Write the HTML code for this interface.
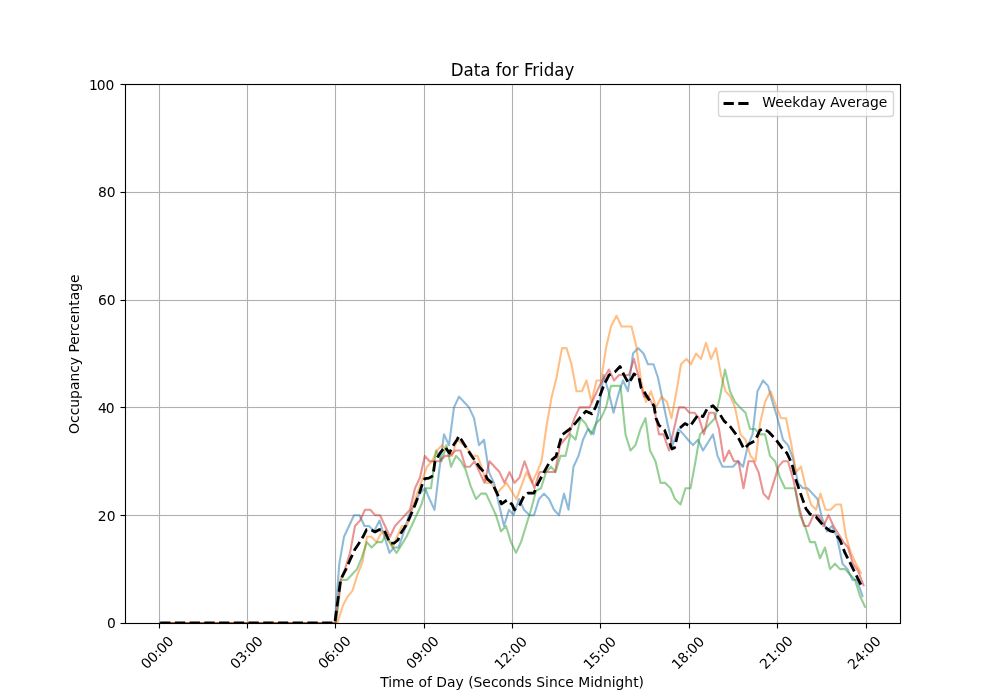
<!DOCTYPE html>
<html lang="en"><head><meta charset="utf-8"><title>Data for Friday</title>
<style>
html,body{margin:0;padding:0;background:#fff;overflow:hidden}
svg{display:block}
text{font-family:'DejaVu Sans','Liberation Sans',sans-serif;fill:#000}
.t10{font-size:13.889px}
.t12{font-size:16.667px}
.grid{stroke:#b0b0b0;stroke-width:1.111;fill:none}
.tick{stroke:#000;stroke-width:1.111;fill:none}
.ser{fill:none;stroke-width:2.083;stroke-opacity:0.5;stroke-linejoin:round;stroke-linecap:square}
</style></head>
<body>
<svg width="1000" height="700" viewBox="0 0 1000 700">
<rect x="0" y="0" width="1000" height="700" fill="#ffffff"/>
<defs><clipPath id="ax"><rect x="125" y="84" width="775" height="539"/></clipPath></defs>
<g class="grid" clip-path="url(#ax)">
<path d="M159.5 84V623"/>
<path d="M247.5 84V623"/>
<path d="M335.5 84V623"/>
<path d="M424.5 84V623"/>
<path d="M512.5 84V623"/>
<path d="M600.5 84V623"/>
<path d="M689.5 84V623"/>
<path d="M777.5 84V623"/>
<path d="M866.5 84V623"/>
<rect x="125" y="622.944" width="775" height="1.111" fill="#b0b0b0" stroke="none"/>
<rect x="125" y="514.944" width="775" height="1.111" fill="#b0b0b0" stroke="none"/>
<rect x="125" y="406.945" width="775" height="1.111" fill="#b0b0b0" stroke="none"/>
<rect x="125" y="299.945" width="775" height="1.111" fill="#b0b0b0" stroke="none"/>
<rect x="125" y="191.945" width="775" height="1.111" fill="#b0b0b0" stroke="none"/>
<rect x="125" y="83.945" width="775" height="1.111" fill="#b0b0b0" stroke="none"/>
</g>
<g class="tick">
<line x1="159.5" y1="623.5" x2="159.5" y2="628.5"/>
<line x1="247.5" y1="623.5" x2="247.5" y2="628.5"/>
<line x1="335.5" y1="623.5" x2="335.5" y2="628.5"/>
<line x1="424.5" y1="623.5" x2="424.5" y2="628.5"/>
<line x1="512.5" y1="623.5" x2="512.5" y2="628.5"/>
<line x1="600.5" y1="623.5" x2="600.5" y2="628.5"/>
<line x1="689.5" y1="623.5" x2="689.5" y2="628.5"/>
<line x1="777.5" y1="623.5" x2="777.5" y2="628.5"/>
<line x1="866.5" y1="623.5" x2="866.5" y2="628.5"/>
<line x1="120.5" y1="623.5" x2="125.5" y2="623.5"/>
<line x1="120.5" y1="515.5" x2="125.5" y2="515.5"/>
<line x1="120.5" y1="407.5" x2="125.5" y2="407.5"/>
<line x1="120.5" y1="300.5" x2="125.5" y2="300.5"/>
<line x1="120.5" y1="192.5" x2="125.5" y2="192.5"/>
<line x1="120.5" y1="84.5" x2="125.5" y2="84.5"/>
</g>
<g class="t10">
<text transform="translate(146.81 669.79) rotate(-45)" letter-spacing="-0.20">00:00</text>
<text transform="translate(235.97 669.69) rotate(-45)" letter-spacing="-0.20">03:00</text>
<text transform="translate(323.93 669.59) rotate(-45)" letter-spacing="-0.20">06:00</text>
<text transform="translate(411.99 669.69) rotate(-45)" letter-spacing="-0.20">09:00</text>
<text transform="translate(500.35 670.29) rotate(-45)" letter-spacing="-0.20">12:00</text>
<text transform="translate(589.31 670.29) rotate(-45)" letter-spacing="-0.20">15:00</text>
<text transform="translate(677.47 670.29) rotate(-45)" letter-spacing="-0.20">18:00</text>
<text transform="translate(765.53 670.09) rotate(-45)" letter-spacing="0.00">21:00</text>
<text transform="translate(853.49 670.19) rotate(-45)" letter-spacing="0.00">24:00</text>
<text x="115.78" y="628.28" text-anchor="end">0</text>
<text x="115.48" y="521.28" text-anchor="end">20</text>
<text x="98.00 105.70" y="412.68">40</text>
<text x="115.58" y="304.88" text-anchor="end">60</text>
<text x="115.58" y="197.08" text-anchor="end">80</text>
<text x="89.00 96.85 105.50" y="90.08">100</text>
<text x="512.10" y="686.64" text-anchor="middle">Time of Day (Seconds Since Midnight)</text>
<text transform="translate(78.72 354.20) rotate(-90)" text-anchor="middle">Occupancy Percentage</text>
</g>
<g clip-path="url(#ax)">
<polyline class="ser" stroke="#1f77b4" points="160.20,623.00 334.80,623.00 339.30,563.71 344.00,536.76 349.00,525.98 354.00,515.20 359.50,515.20 364.50,525.98 369.00,525.98 374.00,531.37 379.50,520.59 384.50,536.76 389.50,552.93 394.00,547.54 398.50,547.54 404.00,531.37 409.00,515.20 414.00,504.42 419.50,493.64 425.00,488.25 429.50,499.03 434.50,509.81 439.00,472.08 444.00,434.35 449.00,445.13 454.00,407.40 459.00,396.62 464.00,402.01 469.00,407.40 474.00,418.18 479.00,445.13 484.00,439.74 489.00,472.08 494.00,482.86 499.00,504.42 504.00,525.98 509.00,509.81 513.50,515.20 519.00,499.03 524.00,509.81 529.50,515.20 534.00,515.20 539.00,499.03 544.00,493.64 549.00,499.03 554.00,509.81 559.00,515.20 564.00,493.64 568.50,509.81 573.50,466.69 578.50,455.91 583.00,439.74 588.00,428.96 593.50,434.35 598.50,412.79 603.50,375.06 608.50,391.23 613.50,412.79 618.50,393.93 623.00,380.45 628.00,391.23 633.00,353.50 638.00,348.11 643.50,353.50 648.00,364.28 653.50,364.28 658.00,377.75 663.00,402.01 667.50,423.57 672.50,445.13 678.50,428.96 683.50,434.35 688.00,439.74 693.00,445.13 698.00,439.74 703.00,450.52 708.00,442.44 713.00,434.35 717.50,455.91 722.50,466.69 727.50,466.69 733.00,466.69 738.00,461.30 743.00,466.69 748.00,445.13 752.50,434.35 757.50,391.23 763.00,380.45 768.00,385.84 772.50,402.01 777.50,418.18 783.00,439.74 788.00,445.13 793.00,458.61 798.00,482.86 803.00,488.25 807.50,488.25 812.50,493.64 817.50,499.03 822.00,517.89 827.00,531.37 832.00,525.98 837.00,536.76 842.50,563.71 847.50,569.10 852.50,579.88 857.00,579.88 862.50,596.05"/>
<polyline class="ser" stroke="#ff7f0e" points="160.20,623.00 337.40,623.00 343.00,605.21 348.00,596.05 352.50,590.66 357.50,574.49 362.50,562.09 367.00,536.76 371.50,536.76 376.50,542.15 382.00,531.37 387.50,538.92 392.50,547.54 397.00,536.76 402.00,525.98 407.00,525.98 412.00,509.81 417.00,493.64 422.00,480.17 427.00,466.69 432.00,461.30 437.00,450.52 442.00,445.13 447.00,450.52 452.00,455.91 457.00,439.74 462.00,443.51 467.00,448.36 472.50,455.91 477.50,455.91 481.50,466.69 486.50,482.86 491.50,482.86 496.50,493.64 501.50,488.25 506.50,482.86 511.50,490.95 516.50,499.03 521.50,485.56 526.50,472.08 532.00,482.86 537.00,472.08 541.50,461.30 546.50,426.26 551.50,397.70 556.50,377.75 562.00,348.11 566.50,348.11 571.50,364.28 576.50,391.23 582.00,391.23 586.50,380.45 591.50,402.01 596.50,380.45 601.00,380.45 606.00,348.11 611.00,326.55 616.50,315.77 621.50,326.55 626.50,326.55 631.50,326.55 636.30,346.49 641.20,381.53 646.00,402.01 651.00,391.23 656.00,407.40 661.50,396.62 667.00,402.01 671.50,418.18 676.50,391.23 681.00,364.28 686.50,358.89 691.00,364.28 696.00,353.50 701.00,358.89 706.00,342.72 711.00,358.89 716.00,348.11 721.00,375.06 725.50,391.23 730.50,396.62 735.00,407.40 740.50,434.35 745.50,439.74 750.50,455.91 755.50,461.30 760.00,423.57 765.00,402.01 770.50,391.23 775.50,404.71 781.00,418.18 786.00,418.18 791.00,442.44 796.00,472.08 801.00,466.69 806.00,488.25 811.00,504.42 816.00,509.81 820.50,493.64 825.50,509.81 830.50,509.81 836.00,504.42 841.00,504.42 846.00,536.76 851.00,552.93 856.00,563.71 861.00,572.87"/>
<polyline class="ser" stroke="#2ca02c" points="160.20,623.00 336.00,623.00 341.30,579.88 347.00,579.88 352.00,574.49 357.00,569.10 361.50,558.32 366.80,542.15 371.60,547.54 377.00,542.15 382.00,542.15 386.00,534.07 391.00,544.31 396.50,552.93 401.50,544.85 406.50,536.76 411.50,525.98 416.50,515.20 421.50,504.42 426.00,488.25 431.00,488.25 436.00,450.52 441.50,461.30 446.50,445.13 451.00,466.69 456.00,455.91 461.00,461.30 465.50,469.38 470.50,485.56 476.00,499.03 481.00,493.64 486.00,493.64 491.00,504.42 496.00,515.20 501.00,531.37 506.00,525.98 511.00,542.15 516.00,552.93 521.00,542.15 526.00,525.98 531.00,509.81 536.00,490.95 541.00,488.25 546.00,472.08 551.00,466.69 555.50,472.08 560.50,455.91 565.50,455.91 570.50,434.35 575.50,439.74 580.50,418.18 585.50,423.57 591.00,434.35 596.00,423.57 601.00,418.18 606.00,407.40 611.00,385.84 616.00,385.84 620.50,385.84 625.50,434.35 630.50,450.52 635.50,445.13 640.50,428.96 645.50,418.18 650.00,450.52 655.50,461.30 660.50,482.86 665.00,482.86 670.50,488.25 675.00,499.03 680.50,504.42 685.50,488.25 690.50,488.25 695.50,461.30 700.00,434.35 705.00,428.96 710.00,423.57 715.00,418.18 720.00,396.62 725.00,369.67 730.00,391.23 735.00,402.01 740.00,407.40 745.50,412.79 750.00,428.96 755.00,428.96 760.00,434.35 765.00,434.35 770.00,455.91 775.00,461.30 780.00,477.47 785.00,488.25 790.00,488.25 795.00,488.25 800.00,515.20 805.00,525.98 810.00,542.15 815.00,542.15 820.00,558.32 825.00,547.54 830.00,569.10 835.00,563.71 840.00,569.10 845.00,569.10 850.00,574.49 855.00,579.88 860.00,596.05 865.00,606.83"/>
<polyline class="ser" stroke="#d62728" points="160.20,623.00 335.50,623.00 340.60,579.88 345.00,569.10 350.00,552.93 355.00,525.98 360.00,520.59 365.00,509.81 370.50,509.81 375.00,515.20 380.00,515.20 385.00,525.98 390.00,536.76 395.00,525.98 400.00,520.59 405.00,515.20 410.00,509.81 415.00,488.25 420.00,477.47 424.80,455.91 429.50,461.30 434.50,461.30 439.50,461.30 445.00,455.91 450.00,455.91 455.50,450.52 460.50,450.52 465.50,466.69 470.00,466.69 474.50,461.30 479.50,472.08 484.50,482.86 489.50,461.30 494.50,466.69 499.50,472.08 504.50,482.86 509.50,472.08 514.50,482.86 519.50,477.47 524.50,461.30 529.50,474.77 534.50,488.25 539.50,472.08 544.50,472.08 549.50,472.08 555.00,472.08 560.00,445.13 564.50,439.74 569.00,434.35 574.50,418.18 579.50,407.40 584.50,407.40 589.50,407.40 594.50,396.62 599.50,385.84 604.00,377.75 609.00,369.67 614.00,380.45 619.00,375.06 624.00,375.06 629.00,375.06 634.00,358.89 639.50,380.45 644.00,396.62 648.50,396.62 654.00,407.40 659.00,434.35 663.50,434.35 669.00,450.52 674.00,428.96 679.00,407.40 684.50,407.40 689.50,412.79 694.50,412.79 699.00,418.18 704.00,434.35 709.00,412.79 714.00,412.79 719.00,428.96 724.00,461.30 729.00,450.52 734.00,461.30 738.50,461.30 743.50,488.25 748.50,461.30 753.50,461.30 758.50,472.08 763.50,493.64 768.50,499.03 773.50,482.86 778.50,466.69 783.00,461.30 788.00,461.30 793.50,480.17 798.50,504.42 804.00,525.98 808.50,525.98 813.50,515.20 818.50,515.20 823.50,525.98 828.50,515.20 833.50,525.98 838.50,534.07 843.50,542.15 848.00,547.54 853.00,563.71 858.00,570.72 863.50,585.27"/>
<polyline fill="none" stroke="#000" stroke-width="2.778" stroke-linejoin="round" stroke-dasharray="10.278 4.444" points="160.20,623.00 334.80,623.00 340.60,579.88 346.00,569.10 350.00,559.94 355.00,549.16 359.00,543.23 363.00,536.76 366.50,529.75 371.00,529.75 375.00,531.91 379.00,529.75 384.00,529.75 387.00,536.22 390.00,543.23 394.00,543.23 398.00,539.99 401.00,532.99 405.00,527.06 410.00,516.82 415.00,504.96 419.50,493.10 423.00,481.78 425.00,478.55 429.00,478.01 433.00,475.85 435.00,461.30 440.00,453.22 445.00,446.75 449.50,453.22 452.00,447.29 457.00,439.74 459.00,435.97 464.00,444.05 472.00,456.45 480.00,467.77 484.00,472.08 487.50,479.09 492.00,482.86 496.50,492.02 501.50,503.88 507.00,500.11 512.00,504.42 514.50,509.81 520.00,504.42 524.00,495.80 528.00,493.10 534.00,493.10 537.50,484.48 544.00,472.08 550.00,461.30 556.00,456.45 562.00,434.89 570.00,428.96 575.00,423.57 580.00,417.64 586.00,411.17 592.00,413.87 596.00,406.32 604.00,384.76 609.00,375.06 615.00,371.83 620.00,366.44 624.00,375.06 628.50,383.14 631.50,378.83 634.00,373.98 639.00,377.75 641.00,387.46 644.50,392.31 648.00,398.24 654.00,405.78 656.00,418.18 659.00,425.19 664.50,430.04 670.00,444.05 672.00,448.90 674.50,447.83 679.00,428.96 685.00,423.57 690.00,426.26 698.00,414.95 703.00,416.56 707.00,409.02 713.00,405.78 718.00,411.17 724.00,420.88 730.00,426.26 738.00,437.05 744.00,448.90 749.00,444.05 755.00,440.82 760.00,430.04 764.00,428.96 769.00,432.19 776.00,439.74 782.00,447.83 787.00,453.22 792.00,464.00 796.00,480.17 800.00,492.02 806.00,508.73 810.00,514.12 816.00,516.82 821.00,522.75 825.00,527.06 830.00,530.83 834.00,531.91 840.00,539.99 845.00,552.93 850.00,562.63 855.00,572.87 862.00,586.89"/>
</g>
<rect x="125.5" y="84.5" width="775" height="539" fill="none" stroke="#000" stroke-width="1.111"/>
<text class="t12" transform="translate(512.50 75.77) scale(1 1.080)" text-anchor="middle">Data for Friday</text>
<g>
<rect x="718.5" y="91.5" width="175" height="25" rx="2.78" ry="2.78" fill="#ffffff" stroke="#cccccc" stroke-width="1.389" opacity="0.8"/>
<path d="M723.55 102.11h10.28v2.78h-10.28z M738.27 102.11h10.28v2.78h-10.28z" fill="#000"/>
<text class="t10" x="762.35" y="107.05">Weekday Average</text>
</g>
</svg>
</body></html>
